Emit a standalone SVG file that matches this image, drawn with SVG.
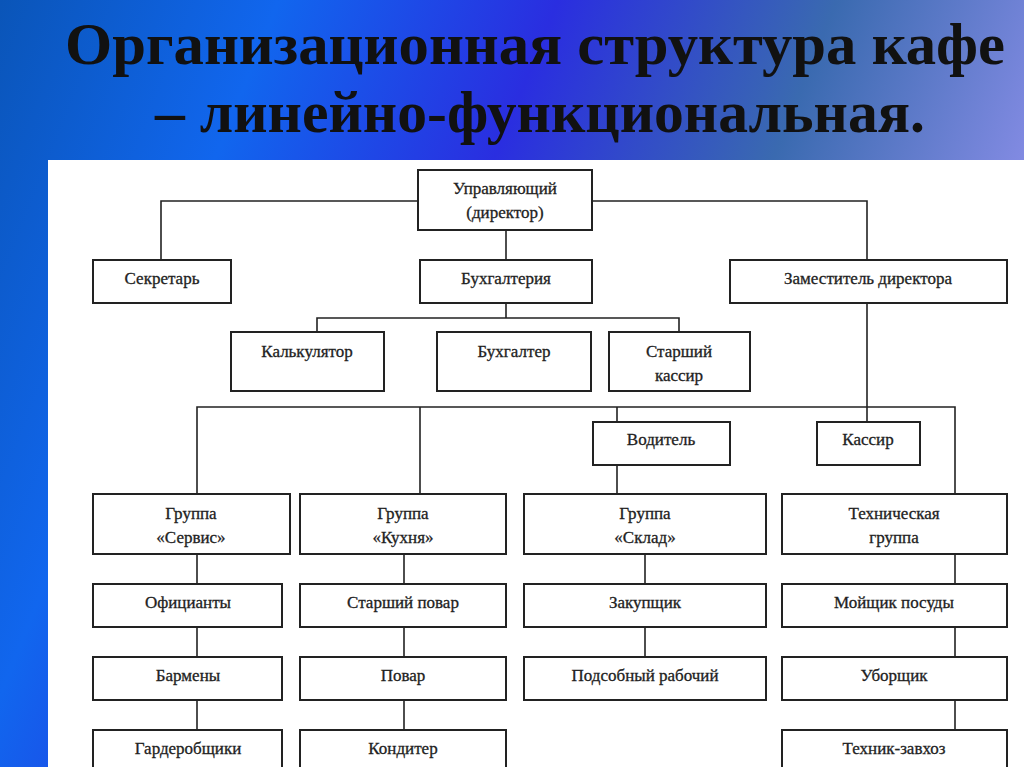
<svg xmlns="http://www.w3.org/2000/svg" width="1024" height="767" viewBox="0 0 1024 767">
<defs>
<linearGradient id="bg" x1="0" y1="0" x2="1" y2="0.3">
<stop offset="0" stop-color="#0a55b8"/>
<stop offset="0.25" stop-color="#1166ee"/>
<stop offset="0.5" stop-color="#2a2ee0"/>
<stop offset="0.75" stop-color="#3a6ab0"/>
<stop offset="1" stop-color="#8a8ee8"/>
</linearGradient>
<style>
.b{fill:#fff;stroke:#222;stroke-width:2}
.t{font-family:"Liberation Serif",serif;font-size:17px;fill:#222;text-anchor:middle;stroke:#222;stroke-width:0.3}
.h{font-family:"Liberation Serif",serif;font-weight:bold;font-size:60px;fill:#111}
#c path{fill:none;stroke:#222;stroke-width:1.6}
</style>
</defs>
<rect width="1024" height="767" fill="url(#bg)"/>
<rect x="48" y="160" width="976" height="607" fill="#fff"/>
<text class="h" x="65" y="64" textLength="940" lengthAdjust="spacingAndGlyphs">Организационная структура кафе</text>
<text class="h" x="155" y="132" textLength="770" lengthAdjust="spacingAndGlyphs">– линейно-функциональная.</text>
<g id="c">
<path d="M418 201H161V260M592 201H867V260M506 230V260M506 303V318M317 332V318H679V332M867 303V422M197 494V407H955V494M420 407V494M617 407V422M617 465V494"/>
<path d="M197 554V584M197 627V657M197 700V730M404 554V584M404 627V657M404 700V730M645 554V584M645 627V657M955 554V584M955 627V657M955 700V730"/>
</g>
<g id="n1"><rect class="b" x="418" y="170" width="174" height="60"/><text class="t" x="505" y="194">Управляющий</text><text class="t" x="505" y="218">(директор)</text></g>
<g id="n2"><rect class="b" x="93" y="260" width="138" height="43"/><text class="t" x="162" y="284">Секретарь</text></g>
<g id="n3"><rect class="b" x="420" y="260" width="172" height="43"/><text class="t" x="506" y="284">Бухгалтерия</text></g>
<g id="n4"><rect class="b" x="730" y="260" width="277" height="43"/><text class="t" x="868" y="284">Заместитель директора</text></g>
<g id="n5"><rect class="b" x="231" y="332" width="153" height="59"/><text class="t" x="307" y="357">Калькулятор</text></g>
<g id="n6"><rect class="b" x="437" y="332" width="154" height="59"/><text class="t" x="514" y="357">Бухгалтер</text></g>
<g id="n7"><rect class="b" x="609" y="332" width="141" height="59"/><text class="t" x="679" y="357">Старший</text><text class="t" x="679" y="381">кассир</text></g>
<g id="n8"><rect class="b" x="593" y="422" width="137" height="43"/><text class="t" x="661" y="445">Водитель</text></g>
<g id="n9"><rect class="b" x="817" y="422" width="103" height="43"/><text class="t" x="868" y="445">Кассир</text></g>
<g id="n10"><rect class="b" x="93" y="494" width="197" height="60"/><text class="t" x="191" y="519">Группа</text><text class="t" x="191" y="543">«Сервис»</text></g>
<g id="n11"><rect class="b" x="300" y="494" width="206" height="60"/><text class="t" x="403" y="519">Группа</text><text class="t" x="403" y="543">«Кухня»</text></g>
<g id="n12"><rect class="b" x="524" y="494" width="242" height="60"/><text class="t" x="645" y="519">Группа</text><text class="t" x="645" y="543">«Склад»</text></g>
<g id="n13"><rect class="b" x="782" y="494" width="225" height="60"/><text class="t" x="894" y="519">Техническая</text><text class="t" x="894" y="543">группа</text></g>
<g id="n14"><rect class="b" x="93" y="584" width="189" height="43"/><text class="t" x="188" y="608">Официанты</text></g>
<g id="n15"><rect class="b" x="300" y="584" width="206" height="43"/><text class="t" x="403" y="608">Старший повар</text></g>
<g id="n16"><rect class="b" x="524" y="584" width="242" height="43"/><text class="t" x="645" y="608">Закупщик</text></g>
<g id="n17"><rect class="b" x="782" y="584" width="225" height="43"/><text class="t" x="894" y="608">Мойщик посуды</text></g>
<g id="n18"><rect class="b" x="93" y="657" width="189" height="43"/><text class="t" x="188" y="681">Бармены</text></g>
<g id="n19"><rect class="b" x="300" y="657" width="206" height="43"/><text class="t" x="403" y="681">Повар</text></g>
<g id="n20"><rect class="b" x="524" y="657" width="242" height="43"/><text class="t" x="645" y="681">Подсобный рабочий</text></g>
<g id="n21"><rect class="b" x="782" y="657" width="225" height="43"/><text class="t" x="894" y="681">Уборщик</text></g>
<g id="n22"><rect class="b" x="93" y="730" width="189" height="43"/><text class="t" x="188" y="754">Гардеробщики</text></g>
<g id="n23"><rect class="b" x="300" y="730" width="206" height="43"/><text class="t" x="403" y="754">Кондитер</text></g>
<g id="n24"><rect class="b" x="782" y="730" width="225" height="43"/><text class="t" x="894" y="754">Техник-завхоз</text></g>
</svg>
